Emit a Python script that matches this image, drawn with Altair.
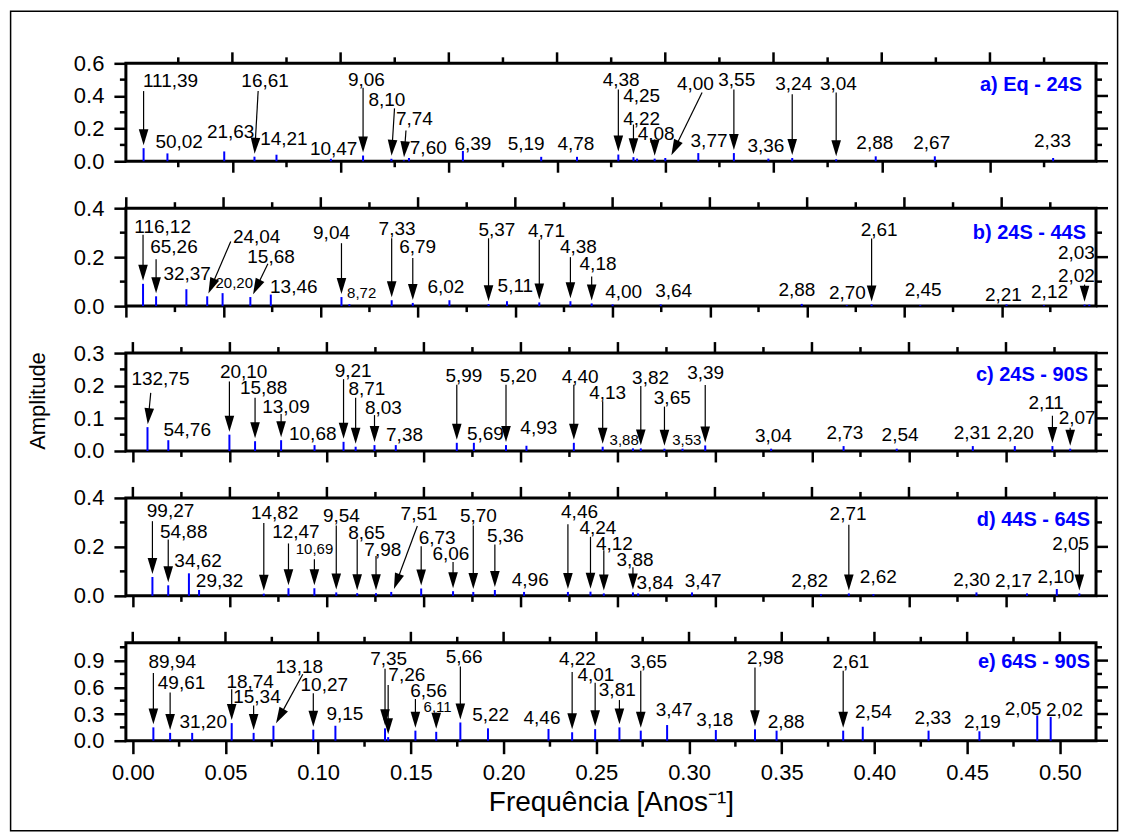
import math
import altair as alt
import pandas as pd

FONT = "Liberation Sans"
BLUE = "#0000FF"
W, H, GAP = 971, 98, 47
XTITLE = "Frequência [Anos⁻¹]"
ARROW = "M0,-0.3L-0.48,-1.9L0.48,-1.9Z"

# ---------------- a) Eq - 24S ----------------
a_periods = ["111,39", "50,02", "21,63", "16,61", "14,21", "10,47", "9,06", "8,10", "7,74", "7,60",
             "6,39", "5,19", "4,78", "4,38", "4,25", "4,22", "4,08", "4,00", "3,77", "3,55",
             "3,36", "3,24", "3,04", "2,88", "2,67", "2,33"]
a_amp = [0.080, 0.048, 0.060, 0.028, 0.040, 0.015, 0.035, 0.015, 0.006, 0.020,
         0.063, 0.027, 0.027, 0.041, 0.025, 0.016, 0.016, 0.020, 0.050, 0.050,
         0.016, 0.020, 0.012, 0.030, 0.030, 0.020]
a_lab_x = [0.0214, 0.0254, 0.0492, 0.0651, 0.0738, 0.0968, 0.1119, 0.1214, 0.1341, 0.1405,
           0.1611, 0.1857, 0.2087, 0.2296, 0.2391, 0.2391, 0.2458, 0.2639, 0.2702, 0.2830,
           0.2965, 0.3093, 0.3300, 0.3468, 0.3731, 0.4289]
a_lab_y = [0.49, 0.12, 0.178, 0.49, 0.136, 0.077, 0.50, 0.377, 0.257, 0.084,
           0.105, 0.105, 0.105, 0.497, 0.40, 0.257, 0.164, 0.472, 0.123, 0.497,
           0.092, 0.472, 0.472, 0.113, 0.113, 0.123]
a_arrow_from = [0.43, None, None, 0.43, None, None, 0.45, 0.324, 0.188, None,
                None, None, None, 0.44, 0.225, None, 0.133, 0.421, None, 0.44,
                None, 0.411, 0.421, None, None, None]
a_arrow_x_from = {"16,61": 0.0619, "8,10": 0.1249, "7,74": 0.1302, "4,00": 0.2670}
a_arrow_x_to = {"4,00": 0.2522}
a_small = []

# ---------------- b) 24S - 44S ----------------
b_periods = ["116,12", "65,26", "32,37", "24,04", "20,20", "15,68", "13,46", "9,04", "8,72", "7,33",
             "6,79", "6,02", "5,37", "5,11", "4,71", "4,38", "4,18", "4,00", "3,64", "2,88",
             "2,70", "2,61", "2,45", "2,21", "2,12", "2,03", "2,02"]
b_amp = [0.091, 0.040, 0.069, 0.040, 0.053, 0.037, 0.047, 0.037, 0.008, 0.024,
         0.013, 0.024, 0.008, 0.020, 0.015, 0.020, 0.011, 0.007, 0.007, 0.009,
         0.004, 0.007, 0.004, 0.007, 0.004, 0.006, 0.006]
b_lab_x = [0.0187, 0.0245, 0.0313, 0.0670, 0.0555, 0.0744, 0.0861, 0.1055, 0.1210, 0.1392,
           0.1498, 0.1643, 0.1905, 0.2000, 0.2160, 0.2324, 0.2425, 0.2557, 0.2814, 0.3447,
           0.3707, 0.3870, 0.4096, 0.4509, 0.4746, 0.4884, 0.4884]
b_lab_y = [0.324, 0.24, 0.131, 0.284, 0.093, 0.20, 0.077, 0.297, 0.053, 0.317,
           0.24, 0.077, 0.311, 0.084, 0.307, 0.24, 0.171, 0.058, 0.061, 0.067,
           0.054, 0.31, 0.067, 0.044, 0.058, 0.218, 0.121]
b_arrow_from = [0.291, 0.191, None, 0.264, None, 0.173, None, 0.257, None, 0.277,
                0.197, None, 0.277, None, 0.271, 0.20, 0.121, None, None, None,
                None, 0.276, None, None, None, None, 0.088]
b_arrow_x_from = {"24,04": 0.0537, "15,68": 0.0728}
b_arrow_x_to = {"15,68": 0.0645, "2,02": 0.4926}
b_small = ["20,20", "8,72"]

# ---------------- c) 24S - 90S ----------------
c_periods = ["132,75", "54,76", "20,10", "15,88", "13,09", "10,68", "9,21", "8,71", "8,03", "7,38",
             "5,99", "5,69", "5,20", "4,93", "4,40", "4,13", "3,88", "3,82", "3,65", "3,53",
             "3,39", "3,04", "2,73", "2,54", "2,31", "2,20", "2,11", "2,07"]
c_amp = [0.073, 0.033, 0.050, 0.030, 0.033, 0.018, 0.028, 0.013, 0.018, 0.018,
         0.025, 0.025, 0.018, 0.016, 0.025, 0.013, 0.008, 0.008, 0.007, 0.007,
         0.017, 0.007, 0.015, 0.007, 0.015, 0.015, 0.015, 0.007]
c_lab_x = [0.0142, 0.0280, 0.0571, 0.0674, 0.0789, 0.0927, 0.1135, 0.1206, 0.1291, 0.1400,
           0.1706, 0.1817, 0.1986, 0.2092, 0.2305, 0.2447, 0.2532, 0.2668, 0.2780, 0.2855,
           0.2952, 0.3301, 0.3670, 0.3954, 0.4326, 0.4548, 0.4707, 0.4867]
c_lab_y = [0.22, 0.063, 0.243, 0.193, 0.136, 0.053, 0.246, 0.19, 0.133, 0.048,
           0.23, 0.053, 0.23, 0.07, 0.228, 0.177, 0.035, 0.225, 0.162, 0.033,
           0.239, 0.047, 0.056, 0.05, 0.056, 0.054, 0.148, 0.101]
c_arrow_from = [0.178, None, 0.213, 0.163, 0.113, None, 0.22, 0.163, 0.11, None,
                0.203, None, 0.203, None, 0.203, 0.152, None, 0.199, 0.136, None,
                0.202, None, None, None, None, None, 0.108, 0.071]
c_arrow_x_from = {"132,75": 0.0092}
c_arrow_x_to = {}
c_small = ["3,88", "3,53"]

# ---------------- d) 44S - 64S ----------------
d_periods = ["99,27", "54,88", "34,62", "29,32", "14,82", "12,47", "10,69", "9,54", "8,65", "7,98",
             "7,51", "6,73", "6,06", "5,70", "5,36", "4,96", "4,46", "4,24", "4,12", "3,88",
             "3,84", "3,47", "2,82", "2,71", "2,62", "2,30", "2,17", "2,10", "2,05"]
d_amp = [0.077, 0.043, 0.092, 0.024, 0.009, 0.031, 0.031, 0.014, 0.011, 0.011,
         0.016, 0.030, 0.019, 0.016, 0.024, 0.016, 0.016, 0.017, 0.010, 0.014,
         0.010, 0.014, 0.007, 0.010, 0.007, 0.014, 0.010, 0.028, 0.010]
d_lab_x = [0.0194, 0.0262, 0.0336, 0.0447, 0.0731, 0.0840, 0.0936, 0.1075, 0.1205, 0.1288,
           0.1475, 0.1568, 0.1639, 0.1781, 0.1920, 0.2048, 0.2302, 0.2397, 0.2482, 0.2588,
           0.2691, 0.2939, 0.3488, 0.3686, 0.3842, 0.4323, 0.4539, 0.4757, 0.4833]
d_lab_y = [0.346, 0.26, 0.142, 0.061, 0.339, 0.26, 0.19, 0.328, 0.255, 0.187,
           0.336, 0.237, 0.172, 0.325, 0.244, 0.065, 0.342, 0.279, 0.211, 0.145,
           0.051, 0.059, 0.062, 0.335, 0.076, 0.065, 0.059, 0.076, 0.211]
d_arrow_from = [0.305, 0.23, None, None, 0.298, 0.214, 0.149, 0.287, 0.23, 0.163,
                0.285, 0.203, 0.138, 0.287, 0.21, None, 0.292, 0.241, 0.186, 0.117,
                None, None, None, 0.29, None, None, None, None, 0.20]
d_arrow_x_from = {"7,51": 0.1466}
d_arrow_x_to = {"7,51": 0.1340}
d_small = ["10,69"]

# ---------------- e) 64S - 90S ----------------
e_periods = ["89,94", "49,61", "31,20", "18,74", "15,34", "13,18", "10,27", "9,15", "7,35", "7,26",
             "6,56", "6,11", "5,66", "5,22", "4,46", "4,22", "4,01", "3,81", "3,65", "3,47",
             "3,18", "2,98", "2,88", "2,61", "2,54", "2,33", "2,19", "2,05", "2,02"]
e_amp = [0.15, 0.088, 0.088, 0.198, 0.088, 0.168, 0.124, 0.168, 0.139, 0.04,
         0.113, 0.10, 0.205, 0.139, 0.132, 0.095, 0.13, 0.15, 0.113, 0.176,
         0.12, 0.128, 0.113, 0.113, 0.157, 0.113, 0.106, 0.285, 0.267]
e_lab_x = [0.0213, 0.0263, 0.0380, 0.0633, 0.0670, 0.0898, 0.1033, 0.1144, 0.1380, 0.1478,
           0.1596, 0.1644, 0.1787, 0.1930, 0.2207, 0.2398, 0.2498, 0.2613, 0.2782, 0.2920,
           0.3139, 0.3412, 0.3524, 0.3873, 0.3994, 0.4315, 0.4582, 0.4802, 0.5025]
e_lab_y = [0.882, 0.651, 0.212, 0.662, 0.487, 0.827, 0.626, 0.296, 0.918, 0.735,
           0.563, 0.377, 0.944, 0.285, 0.26, 0.918, 0.735, 0.567, 0.889, 0.34,
           0.23, 0.926, 0.212, 0.889, 0.322, 0.26, 0.212, 0.359, 0.34]
e_arrow_from = [0.761, 0.541, None, 0.578, 0.395, 0.746, 0.534, None, 0.809, 0.626,
                0.468, 0.315, 0.834, None, None, 0.772, 0.651, 0.457, 0.787, None,
                None, 0.823, None, 0.787, None, None, None, None, None]
e_arrow_x_from = {"13,18": 0.0917}
e_arrow_x_to = {"13,18": 0.0765}
e_small = ["6,11"]

panels = [
    dict(title="a) Eq - 24S", xdom=[0.0008, 0.449], ymax=0.6, ymaj=[0, 0.2, 0.4, 0.6],
         ymin=[0.1, 0.3, 0.5], periods=a_periods, amp=a_amp, lx=a_lab_x, ly=a_lab_y,
         afrom=a_arrow_from, axf=a_arrow_x_from, axt=a_arrow_x_to, small=a_small, toff=14, ty=22),
    dict(title="b) 24S - 44S", xdom=[-0.0002, 0.4985], ymax=0.4, ymaj=[0, 0.2, 0.4],
         ymin=[0.1, 0.3], periods=b_periods, amp=b_amp, lx=b_lab_x, ly=b_lab_y,
         afrom=b_arrow_from, axf=b_arrow_x_from, axt=b_arrow_x_to, small=b_small, toff=10, ty=25),
    dict(title="c) 24S - 90S", xdom=[-0.0036, 0.4964], ymax=0.3, ymaj=[0, 0.1, 0.2, 0.3],
         ymin=[0.05, 0.15, 0.25], periods=c_periods, amp=c_amp, lx=c_lab_x, ly=c_lab_y,
         afrom=c_arrow_from, axf=c_arrow_x_from, axt=c_arrow_x_to, small=c_small, toff=8, ty=22),
    dict(title="d) 44S - 64S", xdom=[-0.0036, 0.4964], ymax=0.4, ymaj=[0, 0.2, 0.4],
         ymin=[0.1, 0.3], periods=d_periods, amp=d_amp, lx=d_lab_x, ly=d_lab_y,
         afrom=d_arrow_from, axf=d_arrow_x_from, axt=d_arrow_x_to, small=d_small, toff=6, ty=22),
    dict(title="e) 64S - 90S", xdom=[-0.0037, 0.5195], ymax=1.1, ymaj=[0, 0.3, 0.6, 0.9],
         ymin=[0.15, 0.45, 0.75, 1.05], periods=e_periods, amp=e_amp, lx=e_lab_x, ly=e_lab_y,
         afrom=e_arrow_from, axf=e_arrow_x_from, axt=e_arrow_x_to, small=e_small, toff=6, ty=19),
]


def val(p):
    return float(p.replace(",", "."))


def build(cfg, idx, last):
    x0, x1 = cfg["xdom"]
    ymax = cfg["ymax"]
    xs = alt.Scale(domain=[x0, x1], nice=False, zero=False)
    ys = alt.Scale(domain=[0, ymax], nice=False, zero=False)

    def px(x):
        return (x - x0) / (x1 - x0) * W

    def py(y):
        return H - y / ymax * H

    def ix(p):
        return x0 + p / W * (x1 - x0)

    def iy(p):
        return (H - p) / H * ymax

    xmaj = [round(0.05 * k, 2) for k in range(12) if x0 - 1e-9 <= 0.05 * k <= x1 + 1e-9]
    xmin = [round(0.025 + 0.05 * k, 3) for k in range(11) if x0 <= 0.025 + 0.05 * k <= x1]

    if last:
        xaxis = alt.Axis(values=xmaj, format=".2f", tickSize=13, tickWidth=2.5, tickColor="black",
                         domain=False, grid=False, labelFontSize=22, labelPadding=9,
                         labelFlush=False, labelOverlap=False, labelColor="black", labelFont=FONT,
                         title=XTITLE, titleFont=FONT, titleFontSize=28, titleFontWeight="normal",
                         titleColor="black", titlePadding=5)
    else:
        xaxis = alt.Axis(values=xmaj, tickSize=11, tickWidth=2.5, tickColor="black",
                         domain=False, grid=False, labels=False, title="")
    yaxis = alt.Axis(values=cfg["ymaj"], format=".1f", tickSize=12, tickWidth=2.5,
                     tickColor="black", domain=False, grid=False, labelFontSize=22,
                     labelPadding=10, labelFlush=False, labelOverlap=False, labelColor="black",
                     labelFont=FONT, title="")

    def X(f):
        return alt.X(f, scale=xs, axis=xaxis)

    def Y(f):
        return alt.Y(f, scale=ys, axis=yaxis)

    stems = pd.DataFrame({"f": [1.0 / val(p) for p in cfg["periods"]], "a": cfg["amp"],
                          "z": [0.0] * len(cfg["amp"])})
    layers = [
        alt.Chart(stems).mark_rule(color=BLUE, strokeWidth=2).encode(
            x=X("f:Q"), y=Y("a:Q"), y2="z:Q"),
    ]
    tk = dict(color="black", strokeWidth=2.5)
    layers += [
        alt.Chart(pd.DataFrame({"v": xmin})).mark_rule(**tk).encode(
            x=X("v:Q"), y=alt.value(H), y2=alt.value(H + 6)),
        alt.Chart(pd.DataFrame({"v": xmaj})).mark_rule(**tk).encode(
            x=X("v:Q"), y=alt.value(0), y2=alt.value(-11)),
        alt.Chart(pd.DataFrame({"v": xmin})).mark_rule(**tk).encode(
            x=X("v:Q"), y=alt.value(0), y2=alt.value(-6)),
        alt.Chart(pd.DataFrame({"v": cfg["ymin"]})).mark_rule(**tk).encode(
            y=Y("v:Q"), x=alt.value(0), x2=alt.value(-6)),
        alt.Chart(pd.DataFrame({"v": cfg["ymaj"]})).mark_rule(**tk).encode(
            y=Y("v:Q"), x=alt.value(W), x2=alt.value(W + 12)),
        alt.Chart(pd.DataFrame({"v": cfg["ymin"]})).mark_rule(**tk).encode(
            y=Y("v:Q"), x=alt.value(W), x2=alt.value(W + 6)),
    ]

    # arrows
    rows = []
    for p, a, y0 in zip(cfg["periods"], cfg["amp"], cfg["afrom"]):
        if y0 is None:
            continue
        tx = cfg["axt"].get(p, 1.0 / val(p))
        ty = a
        sx = cfg["axf"].get(p, tx)
        sy = y0
        dxp = px(tx) - px(sx)
        dyp = py(ty) - py(sy)
        L = math.hypot(dxp, dyp)
        ux, uy = dxp / L, dyp / L
        ex = ix(px(tx) - ux * 17)
        ey = iy(py(ty) - uy * 17)
        ang = math.degrees(math.atan2(-ux, uy)) % 360
        rows.append(dict(sx=sx, sy=sy, ex=ex, ey=ey, tx=tx, ty=ty, ang=ang))
    if rows:
        adf = pd.DataFrame(rows)
        layers.append(alt.Chart(adf).mark_rule(color="black", strokeWidth=1.2).encode(
            x=X("sx:Q"), y=Y("sy:Q"), x2="ex:Q", y2="ey:Q"))
        layers.append(alt.Chart(adf).mark_point(shape=ARROW, size=400, filled=True,
                                                color="black", opacity=1, strokeWidth=0).encode(
            x=X("tx:Q"), y=Y("ty:Q"), angle=alt.Angle("ang:Q", scale=None)))

    labs = pd.DataFrame({"lx": cfg["lx"], "ly": cfg["ly"], "t": cfg["periods"],
                         "fs": [15 if p in cfg["small"] else 19 for p in cfg["periods"]]})
    layers.append(alt.Chart(labs).mark_text(font=FONT, color="black", baseline="middle",
                                            align="center").encode(
        x=X("lx:Q"), y=Y("ly:Q"), text="t:N", size=alt.Size("fs:Q", scale=None)))

    layers.append(alt.Chart(pd.DataFrame({"t": [cfg["title"]]})).mark_text(
        font=FONT, fontSize=20, fontWeight="bold", color=BLUE, align="right",
        baseline="middle").encode(x=alt.value(W - cfg["toff"]), y=alt.value(cfg["ty"]),
                                  text="t:N"))

    if idx == 0:
        layers.append(alt.Chart(pd.DataFrame({"k": [0]})).mark_rect(
            fillOpacity=0, stroke="black", strokeWidth=1.5).encode(
            x=alt.value(-115.4), x2=alt.value(W + 21.6), y=alt.value(-52.0), y2=alt.value(768.2)))
    if idx == 2:
        layers.append(alt.Chart(pd.DataFrame({"t": ["Amplitude"]})).mark_text(
            font=FONT, fontSize=22, color="black", angle=270, align="center",
            baseline="middle").encode(x=alt.value(-88), y=alt.value(48), text="t:N"))

    return alt.layer(*layers).properties(width=W, height=H)


charts = [build(p, i, i == len(panels) - 1) for i, p in enumerate(panels)]

chart = alt.vconcat(*charts, spacing=GAP, bounds="flush").resolve_scale(
    x="independent", y="independent").properties(padding=0, background="white").configure_view(
    stroke="black", strokeWidth=3)

chart.save("out.html", embed_options={"renderer": "svg", "actions": False})
